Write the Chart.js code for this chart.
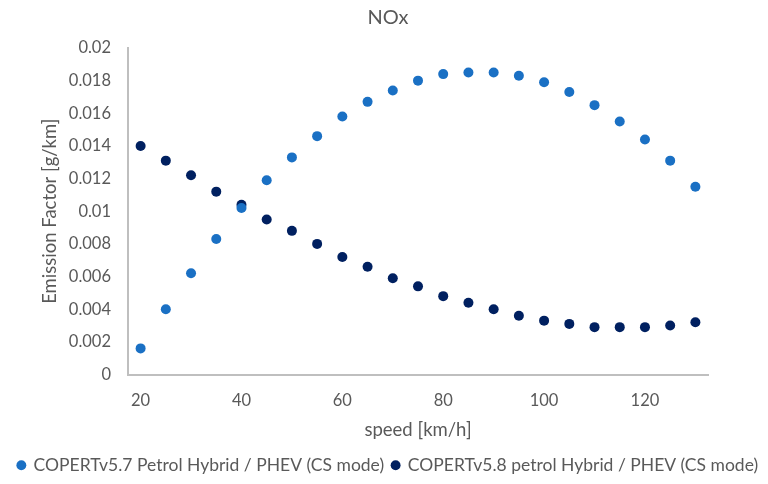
<!DOCTYPE html>
<html>
<head>
<meta charset="utf-8">
<script src="https://cdn.jsdelivr.net/npm/chart.js@4"></script>
<style>
  html, body { margin: 0; padding: 0; background: #fff; }
  #wrap { width: 768px; height: 484px; position: relative; }
</style>
</head>
<body>
<div id="wrap"><canvas id="c" width="768" height="484"></canvas></div>
<script>
const speeds = [20,25,30,35,40,45,50,55,60,65,70,75,80,85,90,95,100,105,110,115,120,125,130];
const copert57 = [0.0016,0.0040,0.0062,0.0083,0.0102,0.0119,0.0133,0.0146,0.0158,0.0167,0.0174,0.0180,0.0184,0.0185,0.0185,0.0183,0.0179,0.0173,0.0165,0.0155,0.0144,0.0131,0.0115];
const copert58 = [0.0140,0.0131,0.0122,0.0112,0.0104,0.0095,0.0088,0.0080,0.0072,0.0066,0.0059,0.0054,0.0048,0.0044,0.0040,0.0036,0.0033,0.0031,0.0029,0.0029,0.0029,0.0030,0.0032];
const xTicks = [20,40,60,80,100,120];
const yTicks = [0,0.002,0.004,0.006,0.008,0.01,0.012,0.014,0.016,0.018,0.02];
const seriesNames = ['COPERTv5.7 Petrol Hybrid / PHEV (CS mode)','COPERTv5.8 petrol Hybrid / PHEV (CS mode)'];
const chartTitle = 'NOx';
const xTitle = 'speed [km/h]';
const yTitle = 'Emission Factor [g/km]';

const FONT = 'Lato, "Open Sans", sans-serif';
const GREY = '#595959';
const AXIS = '#bfbfbf';

new Chart(document.getElementById('c'), {
  type: 'scatter',
  data: {
    datasets: [
      { label: seriesNames[0], data: speeds.map((s,i)=>({x:s,y:copert57[i]})),
        backgroundColor: '#1A70C4', borderColor: '#1A70C4', borderWidth: 0, pointRadius: 5, pointHoverRadius: 5 },
      { label: seriesNames[1], data: speeds.map((s,i)=>({x:s,y:copert58[i]})),
        backgroundColor: '#002060', borderColor: '#002060', borderWidth: 0, pointRadius: 5, pointHoverRadius: 5 }
    ]
  },
  options: {
    responsive: false,
    animation: false,
    devicePixelRatio: 1,
    layout: { padding: { left: 8, right: 0, top: 0, bottom: 0 } },
    plugins: {
      title: { display: true, text: chartTitle, color: GREY, font: { family: FONT, size: 20, weight: 'normal' }, padding: { top: 6, bottom: 18 } },
      legend: {
        position: 'bottom',
        labels: { color: GREY, font: { family: FONT, size: 17.5 }, usePointStyle: true, pointStyle: 'circle', boxWidth: 7, boxHeight: 7, padding: 8 }
      },
      tooltip: { enabled: false }
    },
    scales: {
      x: {
        type: 'linear', min: 17.5, max: 132.5,
        afterBuildTicks: s => { s.ticks = xTicks.map(v => ({ value: v })); },
        afterFit: s => { s.height = 74; },
        grid: { display: false, drawTicks: false },
        border: { color: AXIS, width: 2 },
        ticks: { color: GREY, font: { family: FONT, size: 16.5 }, padding: 16, maxRotation: 0 },
        title: { display: true, text: xTitle, color: GREY, font: { family: FONT, size: 18.5 }, padding: { top: 0, bottom: 7 } }
      },
      y: {
        min: 0, max: 0.02,
        afterBuildTicks: s => { s.ticks = yTicks.map(v => ({ value: v })); },
        afterFit: s => { s.width = 120; },
        grid: { display: false, drawTicks: false },
        border: { color: AXIS, width: 2 },
        ticks: { color: GREY, font: { family: FONT, size: 16.5 }, padding: 17, callback: v => String(+v.toFixed(3)) },
        title: { display: true, text: yTitle, color: GREY, font: { family: FONT, size: 18.5 }, padding: { top: 31, bottom: 0 } }
      },
      yRight: {
        position: 'right',
        display: true,
        min: 0, max: 0.02,
        afterFit: s => { s.width = 60; },
        grid: { display: false, drawTicks: false },
        border: { display: false },
        ticks: { display: false }
      }
    }
  }
});
</script>
</body>
</html>
